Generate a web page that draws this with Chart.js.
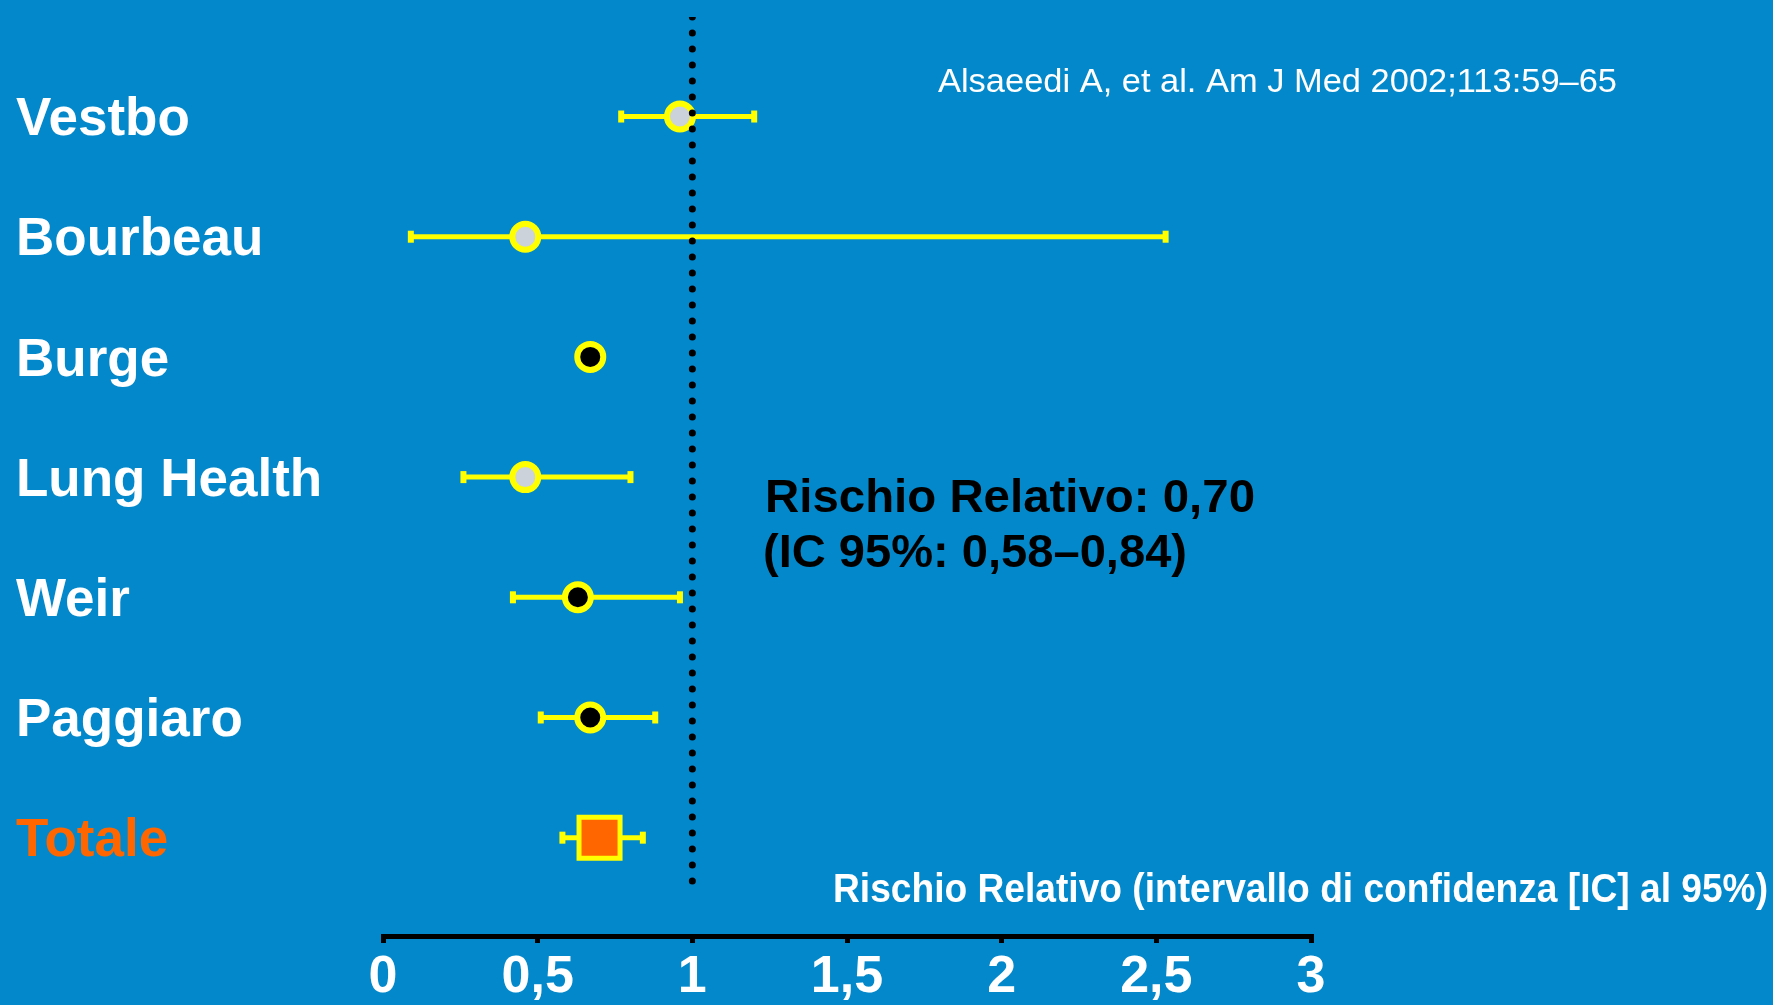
<!DOCTYPE html>
<html>
<head>
<meta charset="utf-8">
<script src="https://cdn.jsdelivr.net/npm/chart.js@4"></script>
<style>
  html, body { margin: 0; padding: 0; background: #0389cb; }
  #wrap { width: 1773px; height: 1005px; }
</style>
</head>
<body>
<div id="wrap"><canvas id="forest" width="1773" height="1005"></canvas></div>
<script>
// studies, relative risk and 95% CI
const studies = ['Vestbo', 'Bourbeau', 'Burge', 'Lung Health', 'Weir', 'Paggiaro', 'Totale'];
const rr = [0.96, 0.46, 0.67, 0.46, 0.63, 0.67, 0.70];
const ciLow = [0.77, 0.09, null, 0.26, 0.42, 0.51, 0.58];
const ciHigh = [1.20, 2.53, null, 0.80, 0.96, 0.88, 0.84];
const xTicks = [0, 0.5, 1, 1.5, 2, 2.5, 3];
const refValue = 1;

const FONT = '"Liberation Sans", Arial, Helvetica, sans-serif';
const YELLOW = '#ffff00';
const ORANGE = '#ff6600';
const markerFill = ['#cbd2da', '#cbd2da', '#000000', '#cbd2da', '#000000', '#000000', ORANGE];

const yMin = -0.828, yMax = 6.818, refTop = 6.385;

// draw text squeezed/stretched to a given width
function fitText(ctx, text, x, y, width, font, color) {
    ctx.save();
    ctx.font = font;
    ctx.fillStyle = color;
    ctx.textBaseline = 'alphabetic';
    ctx.textAlign = 'left';
    const w = ctx.measureText(text).width;
    ctx.translate(x, y);
    ctx.scale(width / w, 1);
    ctx.fillText(text, 0, 0);
    ctx.restore();
}

const notes = {
    id: 'notes',
    afterDraw(chart) {
        const ctx = chart.ctx;
        fitText(ctx, 'Alsaeedi A, et al. Am J Med 2002;113:59\u201365', 938, 92, 679, '34px ' + FONT, '#ffffff');
        fitText(ctx, 'Rischio Relativo: 0,70', 765, 512, 490, 'bold 46px ' + FONT, '#000000');
        fitText(ctx, '(IC 95%: 0,58\u20130,84)', 763, 567, 424, 'bold 46px ' + FONT, '#000000');
        fitText(ctx, 'Rischio Relativo (intervallo di confidenza [IC] al 95%)', 833, 902, 935, 'bold 40px ' + FONT, '#ffffff');
    }
};

const datasets = [];

// reference line at RR = 1 (drawn on top)
datasets.push({
    data: [{ x: refValue, y: yMin }, { x: refValue, y: refTop }],
    showLine: true,
    borderColor: '#000000',
    borderWidth: 7,
    borderDash: [0, 16],
    borderCapStyle: 'round',
    pointRadius: 0
});

// point estimates
datasets.push({
    data: rr.map((v, i) => ({ x: v, y: i })),
    showLine: false,
    pointStyle: rr.map((v, i) => studies[i] === 'Totale' ? 'rect' : 'circle'),
    pointRadius: rr.map((v, i) => studies[i] === 'Totale' ? 29 : 13),
    pointBorderWidth: rr.map((v, i) => studies[i] === 'Totale' ? 5 : 6),
    pointBackgroundColor: markerFill,
    pointBorderColor: YELLOW
});

// confidence intervals
studies.forEach((s, i) => {
    if (ciLow[i] == null) return;
    datasets.push({
        data: [{ x: ciLow[i], y: i }, { x: ciHigh[i], y: i }],
        showLine: true,
        borderColor: YELLOW,
        borderWidth: 5,
        pointStyle: 'line',
        pointRotation: 90,
        pointRadius: 6,
        pointBorderWidth: 6,
        pointBorderColor: YELLOW
    });
});

new Chart(document.getElementById('forest'), {
    type: 'scatter',
    data: { datasets: datasets },
    options: {
        responsive: false,
        animation: false,
        events: [],
        layout: { autoPadding: false, padding: { left: 16, right: 462, top: 17, bottom: 0 } },
        plugins: { legend: { display: false }, tooltip: { enabled: false } },
        scales: {
            x: {
                type: 'linear',
                min: 0,
                max: 3,
                afterBuildTicks: (scale) => { scale.ticks = xTicks.map(v => ({ value: v })); },
                afterFit: (scale) => { scale.height = 69; },
                border: { display: true, color: '#000000', width: 5 },
                grid: { display: true, drawOnChartArea: false, drawTicks: true, tickLength: 7, color: '#000000', lineWidth: 5 },
                ticks: {
                    padding: 3,
                    color: '#ffffff',
                    font: { family: FONT, size: 52, weight: 'bold' },
                    callback: (v) => String(v).replace('.', ',')
                }
            },
            y: {
                type: 'linear',
                reverse: true,
                min: yMin,
                max: yMax,
                afterBuildTicks: (scale) => { scale.ticks = studies.map((s, i) => ({ value: i })); },
                afterFit: (scale) => { scale.width = 367; },
                border: { display: false },
                grid: { display: false },
                ticks: {
                    crossAlign: 'far',
                    padding: 0,
                    labelOffset: 4,
                    color: (ctx) => studies[ctx.tick.value] === 'Totale' ? ORANGE : '#ffffff',
                    font: { family: FONT, size: 53, weight: 'bold', lineHeight: 0.5 },
                    callback: (v) => studies[v]
                }
            }
        }
    },
    plugins: [notes]
});
</script>
</body>
</html>
